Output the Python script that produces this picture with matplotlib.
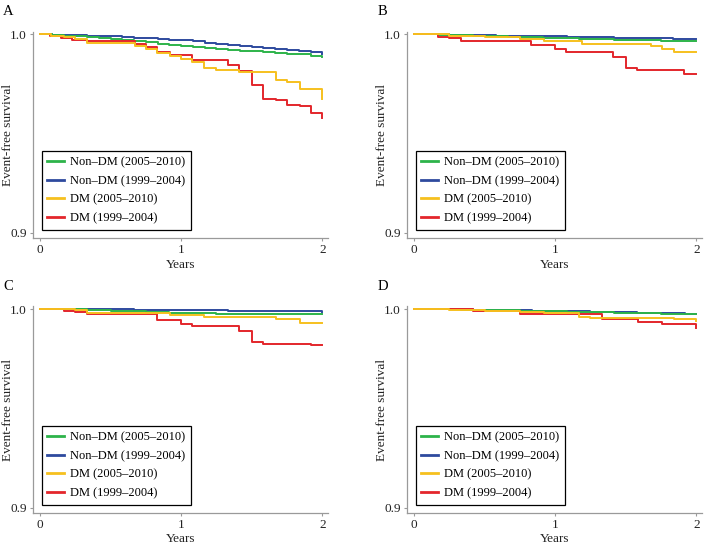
import matplotlib
matplotlib.use('Agg')
import matplotlib.pyplot as plt

plt.rcParams['font.family'] = 'Liberation Serif'

# legend labels / colours
labels = ['Non–DM (2005–2010)', 'Non–DM (1999–2004)', 'DM (2005–2010)', 'DM (1999–2004)']
colors = ['#2db34a', '#2e4a9e', '#f6c01e', '#e3262b']
panel_names = ['A', 'B', 'C', 'D']

# monthly grid used for the non-DM curves
t_month = [0, 0.083, 0.167, 0.25, 0.333, 0.417, 0.5, 0.583, 0.667, 0.75, 0.833, 0.917,
           1.0, 1.083, 1.167, 1.25, 1.333, 1.417, 1.5, 1.583, 1.667, 1.75, 1.833, 1.917, 2.0]

# ---- panel A
a_nondm05 = [1.0, 0.9998, 0.9994, 0.999, 0.9986, 0.9982, 0.9978, 0.9972, 0.9966, 0.996, 0.9952, 0.9945,
             0.9939, 0.9935, 0.993, 0.9926, 0.9922, 0.9918, 0.9915, 0.9911, 0.9907, 0.9903, 0.9899, 0.9892, 0.9886]
a_nondm99 = [1.0, 0.9999, 0.9997, 0.9995, 0.9993, 0.9991, 0.9989, 0.9986, 0.9983, 0.998, 0.9977, 0.9973,
             0.9969, 0.9964, 0.9958, 0.9952, 0.9947, 0.9942, 0.9937, 0.9932, 0.9926, 0.9921, 0.9916, 0.991, 0.9902]
a_dm05_t = [0, 0.08, 0.17, 0.25, 0.33, 0.67, 0.75, 0.83, 0.92, 1.0, 1.08, 1.16, 1.25, 1.41, 1.67, 1.75, 1.84, 2.0]
a_dm05 = [1.0, 0.9993, 0.9986, 0.9978, 0.9956, 0.994, 0.9928, 0.9906, 0.989, 0.9878, 0.9861, 0.9831,
          0.9819, 0.9809, 0.9772, 0.976, 0.9725, 0.9676]
a_dm99_t = [0, 0.07, 0.15, 0.23, 0.33, 0.67, 0.75, 0.83, 0.92, 1.08, 1.33, 1.41, 1.5, 1.58, 1.67, 1.75, 1.84, 1.92, 2.0]
a_dm99 = [1.0, 0.999, 0.998, 0.9973, 0.9964, 0.995, 0.9938, 0.9912, 0.9898, 0.9869, 0.9847, 0.9814,
          0.9744, 0.9676, 0.9667, 0.9643, 0.9637, 0.9603, 0.958]

# ---- panel B
b_nondm05 = [1.0, 1.0, 0.9999, 0.9997, 0.9995, 0.9993, 0.9991, 0.9989, 0.9987, 0.9986, 0.9984, 0.9983,
             0.9981, 0.9979, 0.9978, 0.9976, 0.9974, 0.9973, 0.9971, 0.997, 0.9969, 0.9968, 0.9966, 0.9965, 0.9964]
b_nondm99 = [1.0, 1.0, 1.0, 0.9999, 0.9998, 0.9997, 0.9996, 0.9994, 0.9993, 0.9992, 0.9991, 0.999,
             0.9989, 0.9988, 0.9987, 0.9986, 0.9984, 0.9983, 0.9982, 0.9981, 0.998, 0.9979, 0.9978, 0.9977, 0.9976]
b_dm05_t = [0, 0.25, 0.5, 0.75, 0.92, 1.19, 1.68, 1.76, 1.84, 2.0]
b_dm05 = [1.0, 0.9992, 0.9984, 0.9975, 0.9964, 0.9951, 0.9939, 0.9928, 0.9909, 0.9909]
b_dm99_t = [0, 0.17, 0.25, 0.33, 0.83, 1.0, 1.08, 1.41, 1.5, 1.58, 1.91, 2.0]
b_dm99 = [1.0, 0.9988, 0.998, 0.9968, 0.9946, 0.9924, 0.991, 0.9885, 0.9831, 0.9818, 0.98, 0.98]

# ---- panel C
c_nondm05 = [1.0, 1.0, 0.9999, 0.9998, 0.9996, 0.9994, 0.9992, 0.999, 0.9988, 0.9986, 0.9983, 0.9981,
             0.9979, 0.9978, 0.9978, 0.9977, 0.9977, 0.9976, 0.9976, 0.9975, 0.9975, 0.9975, 0.9974, 0.9974, 0.9973]
c_nondm99 = [1.0, 1.0, 1.0, 1.0, 0.9999, 0.9999, 0.9998, 0.9998, 0.9997, 0.9997, 0.9996, 0.9996,
             0.9995, 0.9994, 0.9993, 0.9993, 0.9992, 0.9991, 0.999, 0.999, 0.9989, 0.9989, 0.9988, 0.9988, 0.9987]
c_dm05_t = [0, 0.25, 0.33, 0.92, 1.16, 1.67, 1.84, 2.0]
c_dm05 = [1.0, 0.9993, 0.998, 0.997, 0.9958, 0.9952, 0.9931, 0.9931]
c_dm99_t = [0, 0.17, 0.25, 0.33, 0.83, 1.0, 1.08, 1.41, 1.5, 1.58, 1.92, 2.0]
c_dm99 = [1.0, 0.9992, 0.9983, 0.9973, 0.9946, 0.9924, 0.9916, 0.9892, 0.9835, 0.9825, 0.9817, 0.9817]

# ---- panel D
d_nondm05 = [1.0, 1.0, 0.9999, 0.9998, 0.9997, 0.9996, 0.9995, 0.9994, 0.9993, 0.9992, 0.9991, 0.999,
             0.9988, 0.9987, 0.9986, 0.9984, 0.9983, 0.9982, 0.998, 0.9979, 0.9978, 0.9977, 0.9976, 0.9975, 0.9974]
d_nondm99 = [1.0, 1.0, 1.0, 0.9999, 0.9998, 0.9997, 0.9996, 0.9995, 0.9994, 0.9993, 0.9992, 0.9991,
             0.999, 0.9989, 0.9988, 0.9987, 0.9986, 0.9984, 0.9983, 0.9981, 0.998, 0.9979, 0.9978, 0.9977, 0.9976]
d_dm05_t = [0, 0.25, 0.5, 0.75, 0.92, 1.17, 1.25, 1.84, 2.0]
d_dm05 = [1.0, 0.9995, 0.999, 0.9985, 0.9978, 0.9962, 0.9953, 0.995, 0.9938]
d_dm99_t = [0, 0.42, 0.75, 1.33, 1.59, 1.76, 2.0]
d_dm99 = [1.0, 0.9988, 0.9975, 0.9951, 0.9936, 0.9923, 0.9906]

panels = [
    (a_nondm05, a_nondm99, a_dm05_t, a_dm05, a_dm99_t, a_dm99),
    (b_nondm05, b_nondm99, b_dm05_t, b_dm05, b_dm99_t, b_dm99),
    (c_nondm05, c_nondm99, c_dm05_t, c_dm05, c_dm99_t, c_dm99),
    (d_nondm05, d_nondm99, d_dm05_t, d_dm05, d_dm99_t, d_dm99),
]

# axes boxes (figure fraction)
boxes = [[0.0465, 0.565, 0.416, 0.377],
         [0.574, 0.565, 0.416, 0.377],
         [0.0465, 0.0627, 0.416, 0.377],
         [0.574, 0.0627, 0.416, 0.377]]

grey = '#9a9a9a'
fig = plt.figure(figsize=(7.09, 5.47), dpi=100)

for i, (nd05, nd99, t05, dm05, t99, dm99) in enumerate(panels):
    ax = fig.add_axes(boxes[i])
    # blue first so green sits on top of it
    ax.step(t_month, nd99, where='post', color=colors[1], lw=1.4, label=labels[1], zorder=2)
    ax.step(t_month, nd05, where='post', color=colors[0], lw=1.4, label=labels[0], zorder=3)
    ax.step(t99, dm99, where='post', color=colors[3], lw=1.4, label=labels[3], zorder=4)
    ax.step(t05, dm05, where='post', color=colors[2], lw=1.4, label=labels[2], zorder=5)

    ax.set_xlim(-0.05, 2.04)
    ax.set_ylim(0.8975, 1.0013)
    ax.set_xticks([0, 1, 2])
    ax.set_xticklabels(['0', '1', '2'])
    ax.set_yticks([0.9, 1.0])
    ax.set_yticklabels(['0.9', '1.0'])
    ax.tick_params(length=2.5, width=0.8, color=grey, labelsize=9.5, pad=2, labelcolor='#222222')

    for s in ['top', 'right']:
        ax.spines[s].set_visible(False)
    for s in ['left', 'bottom']:
        ax.spines[s].set_color(grey)
        ax.spines[s].set_linewidth(0.9)

    ax.set_xlabel('Years', fontsize=9.5, color='#222222')
    ax.xaxis.set_label_coords(0.5, -0.1)
    ax.set_ylabel('Event-free survival', fontsize=9.5, color='#222222')
    ax.yaxis.set_label_coords(-0.063, 0.5)

    # legend in the given order
    h, l = ax.get_legend_handles_labels()
    order = [l.index(x) for x in labels]
    leg = ax.legend([h[k] for k in order], [l[k] for k in order], loc='lower left',
                    bbox_to_anchor=(0.03, 0.039), borderaxespad=0, fontsize=9,
                    fancybox=False, framealpha=1, edgecolor='black',
                    handlelength=1.35, handletextpad=0.45, labelspacing=0.52,
                    borderpad=0.45)
    leg.get_frame().set_linewidth(0.9)
    for ln in leg.get_lines():
        ln.set_linewidth(2)

    # panel letter
    x0 = boxes[i][0]
    y_top = boxes[i][1] + boxes[i][3]
    fig.text(x0 - 0.042, y_top + 0.037, panel_names[i], fontsize=10.5, va='center', ha='left')

fig.savefig('out.png', dpi=100)
